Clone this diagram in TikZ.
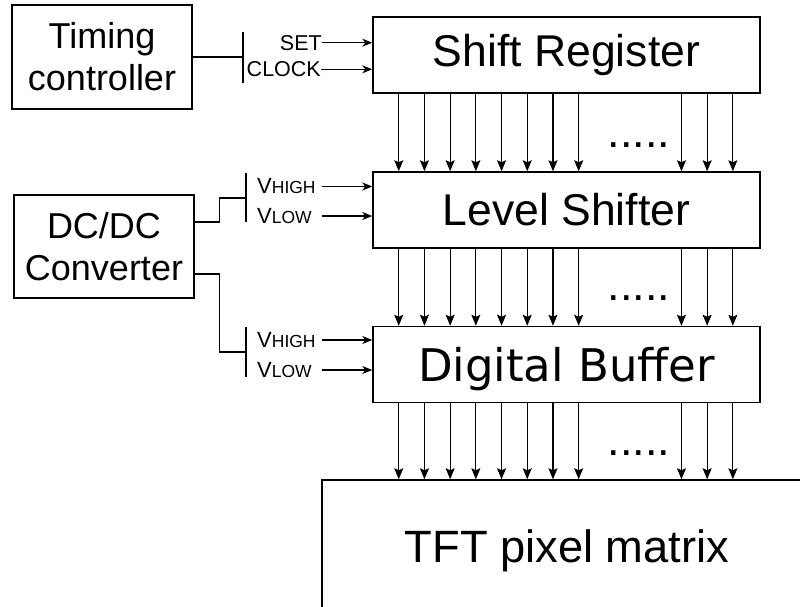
\documentclass[tikz,border=0pt]{standalone}
\usepackage{fontspec}
\setmainfont{Liberation Sans}
\newfontfamily\dejavu{DejaVu Sans}
\usetikzlibrary{arrows.meta}
\newcommand{\vsub}[1]{{\fontsize{22}{22}\selectfont V}{\fontsize{17.5}{17.5}\selectfont #1}}

\begin{document}
\begin{tikzpicture}[x=1pt,y=-1pt,
    block/.style={draw, line width=1.5pt, inner sep=0pt, minimum width=387pt, minimum height=76pt, font=\fontsize{44.5}{44.5}\selectfont},
    ctrl/.style={draw, line width=1.2pt, inner sep=0pt, minimum width=180pt, minimum height=104pt, align=center, font=\fontsize{36}{42}\selectfont},
    sig/.style={inner sep=0pt, font=\fontsize{21.5}{21.5}\selectfont},
    bus/.style={line width=1.1pt, -{Stealth[length=11pt,width=9pt,inset=2pt]}},
    sigarrow/.style={line width=1.1pt, -{Stealth[length=10pt,width=8pt,inset=3pt]}},
    wire/.style={line width=1.1pt},
    dots/.style={anchor=base, inner sep=0pt, font=\fontsize{45}{45}\selectfont}]
  \useasboundingbox (0,0) rectangle (800,606);
  % controllers on the left
  \node[ctrl] (timing) at (102,57) {Timing\\controller};
  \node[ctrl, minimum height=103pt] (dcdc) at (104,246.5) {DC/DC\\Converter};
  % driver chain
  \node[block] (shift) at (566.5,55) {Shift Register};
  \node[block] (level) at (566.5,210) {Level Shifter};
  \node[block, text depth=0pt, font=\dejavu\fontsize{45}{45}\selectfont] (buffer) at (566.5,364.5) {Digital Buffer};
  \node[block, minimum width=490pt, minimum height=142pt, font=\fontsize{45.3}{45.3}\selectfont] (tft) at (567,551) {TFT pixel matrix};
  % timing signals
  \coordinate (tbar) at (243,57);
  \draw[wire] (timing.east) -- (tbar);
  \draw[wire] ([yshift=25pt]tbar) -- ([yshift=-26pt]tbar);
  \node[sig, anchor=east] (set) at (322,42.7) {SET};
  \node[sig, anchor=east] (clock) at (321,69.3) {CLOCK};
  \draw[sigarrow] (set.east) -- (set.east -| shift.west);
  \draw[sigarrow] (clock.east) -- (clock.east -| shift.west);
  % supply lines
  \coordinate (vbar1) at (246,198);
  \coordinate (vbar2) at (246,352);
  \draw[wire] ([yshift=24.5pt]dcdc.east) -- ++(25,0) |- (vbar1);
  \draw[wire] ([yshift=-27.5pt]dcdc.east) -- ++(25,0) |- (vbar2);
  \draw[wire] ([yshift=25pt]vbar1) -- ([yshift=-24pt]vbar1);
  \draw[wire] ([yshift=25pt]vbar2) -- ([yshift=-25pt]vbar2);
  \node[sig, anchor=west, text width=62pt, align=left] (vhigh1) at (257,186.5) {\vsub{HIGH}};
  \node[sig, anchor=west, text width=62pt, align=left] (vlow1) at (257,216) {\vsub{LOW}};
  \node[sig, anchor=west, text width=62pt, align=left] (vhigh2) at (257,340) {\vsub{HIGH}};
  \node[sig, anchor=west, text width=62pt, align=left] (vlow2) at (257,370) {\vsub{LOW}};
  \foreach \v/\b in {vhigh1/level, vlow1/level, vhigh2/buffer, vlow2/buffer}
    \draw[sigarrow] ([xshift=3pt]\v.east) -- (\v.east -| \b.west);
  % parallel outputs
  \foreach \k in {0,...,7,11,12,13}{
    \draw[bus] ([xshift=26.5+25.7*\k]shift.south west) -- ([xshift=26.5+25.7*\k]level.north west);
    \draw[bus] ([xshift=26.5+25.7*\k]level.south west) -- ([xshift=26.5+25.7*\k]buffer.north west);
    \draw[bus] ([xshift=26.5+25.7*\k]buffer.south west) -- ([xshift=26.5+25.7*\k]buffer.south west |- tft.north);
  }
  \node[dots] (dots1) at (639,147) {.....};
  \node[dots] (dots2) at (639,300) {.....};
  \node[dots] (dots3) at (639,455) {.....};
\end{tikzpicture}
\end{document}
